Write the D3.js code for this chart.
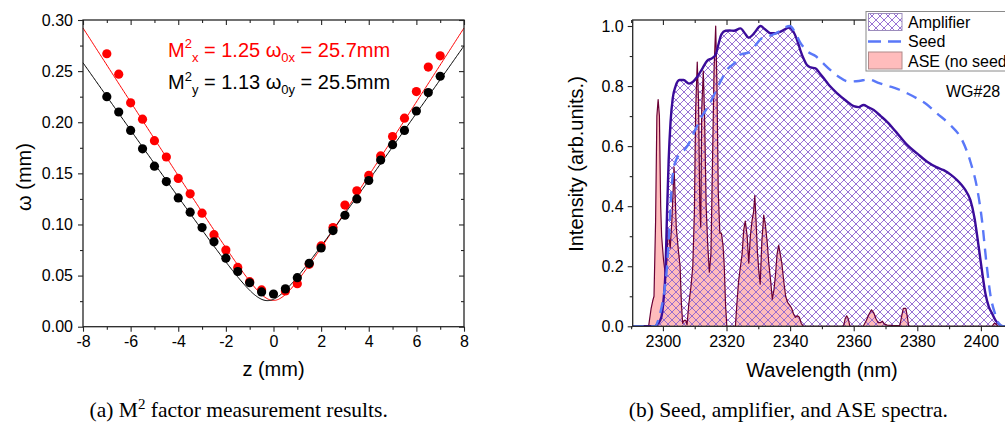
<!DOCTYPE html>
<html><head><meta charset="utf-8">
<script src="https://cdn.jsdelivr.net/npm/d3@7"></script>
<style>
body{margin:0;background:#fff;}
svg{display:block;}
text{font-family:"Liberation Sans",Arial,sans-serif;}
</style></head><body>
<svg id="fig" width="1005" height="425"></svg>
<script>
// ---------- (a) beam radius versus z ----------
const zY = [-7,-6.5,-6,-5.5,-5,-4.5,-4,-3.5,-3,-2.5,-2,-1.5,-1,-0.5,0,0.5,1,1.5,2,2.5,3,3.5,4,4.5,5,5.5,6,6.5,7];
const wY = [0.225,0.210,0.192,0.174,0.157,0.142,0.126,0.112,0.097,0.083,0.067,0.054,0.043,0.034,0.032,0.037,0.048,0.062,0.077,0.094,0.109,0.125,0.143,0.163,0.178,0.192,0.211,0.229,0.245];
const zX = [-7,-6.5,-6,-5.5,-5,-4.5,-4,-3.5,-3,-2.5,-2,-1.5,-1,-0.5,0.5,1,1.5,2,2.5,3,3.5,4,4.5,5,5.5,6,6.5,7];
const wX = [0.267,0.247,0.219,0.203,0.182,0.166,0.145,0.130,0.111,0.090,0.075,0.058,0.044,0.036,0.035,0.042,0.061,0.079,0.097,0.119,0.133,0.148,0.167,0.186,0.204,0.230,0.254,0.265];
// fitted Gaussian-beam parameters (waist in mm, waist position in mm)
const m2X = 1.25, w0X = 0.0257, z0X = 0.0;
const m2Y = 1.13, w0Y = 0.0255, z0Y = -0.25;
const lambdaMm = 0.00235;
const zTicksMajor = [-8,-6,-4,-2,0,2,4,6,8];
const zTicksMinor = [-7,-5,-3,-1,1,3,5,7];
const wTicksMajor = [0,0.05,0.10,0.15,0.20,0.25,0.30];
const wTicksMinor = [0.025,0.075,0.125,0.175,0.225,0.275];

// ---------- (b) spectra ----------
const ampNm = [2290.5,2297.5,2298.5,2299.5,2300.3,2300.8,2301.3,2301.8,2302.4,2303.1,2304,2305.2,2306.5,2308.2,2309.5,2310.8,2312.5,2313.9,2315.5,2316.6,2317.5,2318.4,2319.7,2321,2322.3,2324.4,2325.8,2327,2328.2,2329.1,2330.7,2332,2333.8,2335.5,2337,2338.5,2339.6,2341.1,2342.3,2343.2,2344.3,2345.3,2346.5,2348,2349.5,2350.6,2352.5,2354.8,2357.5,2360,2361.5,2363.1,2364.5,2366.3,2368.5,2370.5,2373.5,2376.8,2380,2383.1,2386,2388.3,2390.5,2392.5,2394,2395.1,2396.7,2398,2399.3,2400.4,2401.4,2402.5,2403.5,2404.6,2405.6,2406.7,2410];
const ampI = [0,0,0.01,0.03,0.10,0.18,0.38,0.55,0.68,0.76,0.80,0.82,0.82,0.808,0.815,0.831,0.86,0.884,0.893,0.905,0.94,0.972,0.984,0.985,0.984,0.992,0.975,0.961,0.97,0.982,1.0,0.99,0.976,0.976,0.981,0.99,0.995,0.98,0.95,0.92,0.89,0.87,0.862,0.859,0.84,0.826,0.80,0.776,0.752,0.733,0.73,0.737,0.73,0.72,0.70,0.681,0.645,0.604,0.575,0.548,0.53,0.52,0.505,0.487,0.47,0.454,0.42,0.36,0.265,0.18,0.11,0.065,0.043,0.02,0.008,0,0];
const seedNm = [2290.5,2297.5,2298.5,2299.5,2300.5,2301.3,2302,2302.6,2303.3,2304.2,2305.5,2307,2308.5,2310,2311.8,2314.9,2318.1,2320.2,2322.9,2324.4,2327,2328.6,2331.2,2334.3,2336.4,2338.5,2340,2341.5,2343.2,2345.5,2348,2350,2352.7,2355.3,2358.4,2361.6,2364.7,2368,2371,2373.9,2376.8,2379.9,2382.5,2386.2,2390.4,2394.1,2396.7,2398.8,2400.4,2401.7,2403,2404.5,2405.6,2407,2410];
const seedI = [0,0,0.02,0.06,0.12,0.20,0.32,0.44,0.52,0.555,0.575,0.59,0.615,0.65,0.69,0.745,0.815,0.855,0.881,0.905,0.912,0.93,0.96,0.97,0.981,0.996,1.0,0.98,0.945,0.915,0.90,0.88,0.853,0.831,0.815,0.817,0.822,0.81,0.80,0.79,0.776,0.759,0.743,0.709,0.670,0.620,0.548,0.46,0.348,0.215,0.104,0.04,0.01,0,0];
const aseNm = [2290.5,2295.5,2296.3,2296.8,2297.2,2297.7,2298.1,2298.5,2298.9,2299.3,2299.6,2300.2,2300.8,2301.2,2301.6,2301.9,2302.3,2302.8,2303.2,2303.5,2303.8,2304.2,2304.8,2305.4,2305.8,2306.2,2306.7,2307.2,2307.6,2308.1,2308.8,2309.4,2309.9,2310.3,2310.8,2311.2,2311.6,2311.9,2312.2,2312.7,2313.1,2313.6,2314.1,2314.6,2315.1,2315.6,2316.1,2316.6,2317.0,2317.4,2317.9,2318.4,2318.9,2319.3,2319.7,2320.1,2322.8,2323.3,2323.8,2324.4,2324.9,2325.4,2325.9,2326.5,2327.0,2327.5,2328.0,2328.5,2328.9,2329.3,2329.7,2330.2,2330.6,2331.1,2331.7,2332.2,2332.8,2333.3,2333.9,2334.4,2334.9,2335.4,2335.9,2336.4,2336.9,2337.4,2338.0,2338.6,2339.2,2339.9,2340.5,2341.1,2341.7,2342.3,2342.9,2343.5,2344.2,2356.8,2357.3,2357.8,2358.3,2358.8,2363.0,2364.0,2364.8,2365.6,2366.3,2367.0,2367.7,2368.4,2369.0,2369.6,2370.5,2371.5,2372.5,2373.5,2374.5,2375.2,2375.6,2376.4,2376.9,2377.3,2403.5,2404.2,2404.8,2405.3,2410];
const aseI = [0,0,0.06,0.085,0.10,0.35,0.70,0.755,0.70,0.40,0.30,0.22,0.17,0.21,0.32,0.30,0.26,0.35,0.45,0.53,0.45,0.33,0.26,0.20,0.08,0.01,0.02,0.02,0.005,0.07,0.13,0.20,0.38,0.72,0.88,0.75,0.40,0.33,0.72,0.85,0.70,0.40,0.27,0.18,0.24,0.55,0.86,1.0,0.80,0.45,0.31,0.31,0.27,0.20,0.07,0,0,0.08,0.15,0.20,0.24,0.32,0.35,0.30,0.21,0.30,0.35,0.38,0.435,0.35,0.25,0.18,0.14,0.28,0.37,0.34,0.28,0.21,0.15,0.09,0.12,0.17,0.24,0.27,0.24,0.21,0.15,0.10,0.08,0.07,0.06,0.04,0.03,0.035,0.03,0.01,0,0,0.025,0.035,0.025,0,0,0.02,0.04,0.055,0.045,0.025,0.012,0.012,0.017,0.008,0.004,0.003,0.002,0.002,0.002,0.04,0.06,0.06,0.03,0,0,0.01,0.008,0,0];
const nmTicksMajor = [2300,2320,2340,2360,2380,2400];
const nmTicksMinor = [2290,2310,2330,2350,2370,2390];
const iTicksMajor = [0,0.2,0.4,0.6,0.8,1.0];
const iTicksMinor = [0.1,0.3,0.5,0.7,0.9];

const svg = d3.select("#fig");
const AX = "#262626";

// crosshatch fill for the amplifier spectrum
const defs = svg.append("defs");
const pat = defs.append("pattern").attr("id","xhatch").attr("patternUnits","userSpaceOnUse")
  .attr("width",8).attr("height",8);
pat.append("path").attr("d","M-1,1 L1,-1 M0,8 L8,0 M7,9 L9,7 M-1,7 L1,9 M0,0 L8,8 M7,-1 L9,1")
  .attr("stroke","#8c62cf").attr("stroke-width",0.9).attr("fill","none");

function frame(x, y, opt) {
  const g = svg.append("g").attr("class","frame");
  const [x0,x1] = x.range(), [y0,y1] = y.range();
  const style = sel => { sel.select(".domain").remove();
    sel.selectAll("line").attr("stroke",AX).attr("stroke-width",1.1);
    sel.selectAll("text").attr("fill","#000").style("font-size","16px")
       .style("font-family",'"Liberation Sans",Arial,sans-serif'); };
  g.append("g").attr("transform",`translate(0,${y0})`)
    .call(d3.axisBottom(x).tickValues(opt.xMaj).tickSize(5).tickPadding(4).tickFormat(opt.xFmt)).call(style);
  g.append("g").attr("transform",`translate(0,${y0})`)
    .call(d3.axisBottom(x).tickValues(opt.xMin).tickSize(3).tickFormat("")).call(style);
  g.append("g").attr("transform",`translate(0,${y1})`)
    .call(d3.axisBottom(x).tickValues(opt.xMaj).tickSize(5).tickFormat("")).call(style);
  g.append("g").attr("transform",`translate(0,${y1})`)
    .call(d3.axisBottom(x).tickValues(opt.xMin).tickSize(3).tickFormat("")).call(style);
  g.append("g").attr("transform",`translate(${x0},0)`)
    .call(d3.axisLeft(y).tickValues(opt.yMaj).tickSize(5).tickPadding(opt.yPad).tickFormat(opt.yFmt)).call(style);
  g.append("g").attr("transform",`translate(${x0},0)`)
    .call(d3.axisLeft(y).tickValues(opt.yMin).tickSize(3).tickFormat("")).call(style);
  g.append("g").attr("transform",`translate(${x1},0)`)
    .call(d3.axisLeft(y).tickValues(opt.yMaj).tickSize(5).tickFormat("")).call(style);
  g.append("g").attr("transform",`translate(${x1},0)`)
    .call(d3.axisLeft(y).tickValues(opt.yMin).tickSize(3).tickFormat("")).call(style);
  g.append("rect").attr("x",x0).attr("y",y1).attr("width",x1-x0).attr("height",y0-y1)
    .attr("fill","none").attr("stroke",AX).attr("stroke-width",1.3);
}

// ===== panel (a) =====
const xa = d3.scaleLinear().domain([-8,8]).range([83,464]);
const ya = d3.scaleLinear().domain([0,0.30]).range([326.7,20]);
const beam = (m2,w0,z0) => z => {
  const zr = Math.PI*w0*w0/(m2*lambdaMm);
  return w0*Math.sqrt(1+((z-z0)/zr)**2);
};
const zs = d3.range(-8,8.0001,0.04);
const pa = svg.append("g");
const fitLine = d3.line().x(d=>xa(d[0])).y(d=>ya(d[1]));
pa.append("path").datum(zs.map(z=>[z,beam(m2X,w0X,z0X)(z)])).attr("d",fitLine)
  .attr("fill","none").attr("stroke","#ff0000").attr("stroke-width",1);
pa.append("path").datum(zs.map(z=>[z,beam(m2Y,w0Y,z0Y)(z)])).attr("d",fitLine)
  .attr("fill","none").attr("stroke","#000").attr("stroke-width",1);
pa.selectAll("circle.rx").data(zX.map((z,i)=>[z,wX[i]])).join("circle").attr("class","rx")
  .attr("cx",d=>xa(d[0])).attr("cy",d=>ya(d[1])).attr("r",4.6).attr("fill","#ff0000");
pa.selectAll("circle.ry").data(zY.map((z,i)=>[z,wY[i]])).join("circle").attr("class","ry")
  .attr("cx",d=>xa(d[0])).attr("cy",d=>ya(d[1])).attr("r",4.6).attr("fill","#000");

frame(xa, ya, {xMaj:zTicksMajor, xMin:zTicksMinor, xFmt:d=>String(d),
  yMaj:wTicksMajor, yMin:wTicksMinor, yFmt:d3.format(".2f"), yPad:5});

function m2Label(x, y, color, sub, m2, w0txt) {
  const t = svg.append("text").attr("x",x).attr("y",y).attr("fill",color).style("font-size","20px");
  t.append("tspan").text("M");
  t.append("tspan").attr("dy",-8.5).style("font-size","13px").text("2");
  t.append("tspan").attr("dy",13.5).style("font-size","13px").text(sub);
  t.append("tspan").attr("dy",-5).text(` = ${m2.toFixed(2)} ω`);
  t.append("tspan").attr("dy",5).style("font-size","13px").text("0"+sub);
  t.append("tspan").attr("dy",-5).text(` = ${w0txt}mm`);
}
m2Label(168, 56.5, "#ff0000", "x", m2X, (w0X*1000).toFixed(1));
m2Label(168, 89, "#000", "y", m2Y, (w0Y*1000).toFixed(1));

svg.append("text").attr("transform","translate(31,177) rotate(-90)").attr("text-anchor","middle")
  .style("font-size","20px").text("ω (mm)");
svg.append("text").attr("x",273.5).attr("y",376).attr("text-anchor","middle")
  .style("font-size","20px").text("z (mm)");

// ===== panel (b) =====
// the right frame edge sits just past the figure boundary
const xb = d3.scaleLinear().domain([2290.5,2410]).range([632.7,1012.7]);
const yb = d3.scaleLinear().domain([0,1.02]).range([326.3,20]);
defs.append("clipPath").attr("id","clipB").append("rect")
  .attr("x",632.7).attr("y",20).attr("width",380).attr("height",306.3);
const pb = svg.append("g").attr("clip-path","url(#clipB)");
const area = (xs,ys,curve) => d3.area().curve(curve).x((d,i)=>xb(xs[i])).y0(yb(0)).y1((d,i)=>yb(ys[i]))(xs);
const line = (xs,ys,curve) => d3.line().curve(curve).x((d,i)=>xb(xs[i])).y((d,i)=>yb(ys[i]))(xs);

pb.append("path").attr("d",area(aseNm,aseI,d3.curveLinear)).attr("fill","#ffbcbc");
pb.append("path").attr("d",area(ampNm,ampI,d3.curveMonotoneX)).attr("fill","url(#xhatch)");
pb.append("path").attr("d",line(aseNm,aseI,d3.curveLinear)).attr("fill","none")
  .attr("stroke","#6a0035").attr("stroke-width",1.2).attr("stroke-linejoin","round");
pb.append("path").attr("d",line(ampNm,ampI,d3.curveMonotoneX)).attr("fill","none")
  .attr("stroke","#3b0c9a").attr("stroke-width",2.4);
pb.append("path").attr("d",line(seedNm,seedI,d3.curveMonotoneX)).attr("fill","none")
  .attr("stroke","#5a78f8").attr("stroke-width",2.4).attr("stroke-dasharray","11,7.5");

frame(xb, yb, {xMaj:nmTicksMajor, xMin:nmTicksMinor, xFmt:d=>String(d),
  yMaj:iTicksMajor, yMin:iTicksMinor, yFmt:d3.format(".1f"), yPad:4});

svg.append("text").attr("x",946).attr("y",96.5).style("font-size","16px").text("WG#28");

// legend
const lg = svg.append("g");
lg.append("rect").attr("x",866).attr("y",11.5).attr("width",150).attr("height",59.5)
  .attr("fill","#fff").attr("stroke","#8a8a8a").attr("stroke-width",1);
lg.append("rect").attr("x",868.5).attr("y",13.5).attr("width",33.5).attr("height",17)
  .attr("fill","url(#xhatch)").attr("stroke","#9c8cbc").attr("stroke-width",1);
lg.append("line").attr("x1",868).attr("x2",902).attr("y1",41.5).attr("y2",41.5)
  .attr("stroke","#5a78f8").attr("stroke-width",2.4).attr("stroke-dasharray","13,7");
lg.append("rect").attr("x",868.5).attr("y",52).attr("width",33.5).attr("height",17)
  .attr("fill","#ffbcbc").attr("stroke","#b08a8a").attr("stroke-width",1);
[["Amplifier",27.5],["Seed",47],["ASE (no seed)",67]].forEach(([t,y]) =>
  lg.append("text").attr("x",908).attr("y",y).style("font-size","16px").text(t));

svg.append("text").attr("transform","translate(583,164) rotate(-90)").attr("text-anchor","middle")
  .style("font-size","20px").text("Intensity (arb.units.)");
svg.append("text").attr("x",822).attr("y",377).attr("text-anchor","middle")
  .style("font-size","20px").text("Wavelength (nm)");

// captions
const cap = (x, parts) => {
  const t = svg.append("text").attr("x",x).attr("y",416.5).attr("text-anchor","middle")
    .style("font-family",'"Liberation Serif","Times New Roman",serif').style("font-size","21.5px");
  parts.forEach(([s,sup]) => {
    const sp = t.append("tspan").text(s);
    if (sup) sp.attr("dy",-8).style("font-size","15px");
    else if (sup === false) sp.attr("dy",8);
  });
};
cap(238.7, [["(a) M"],["2",true],[" factor measurement results.",false]]);
cap(788.3, [["(b) Seed, amplifier, and ASE spectra."]]);
</script>
</body></html>
